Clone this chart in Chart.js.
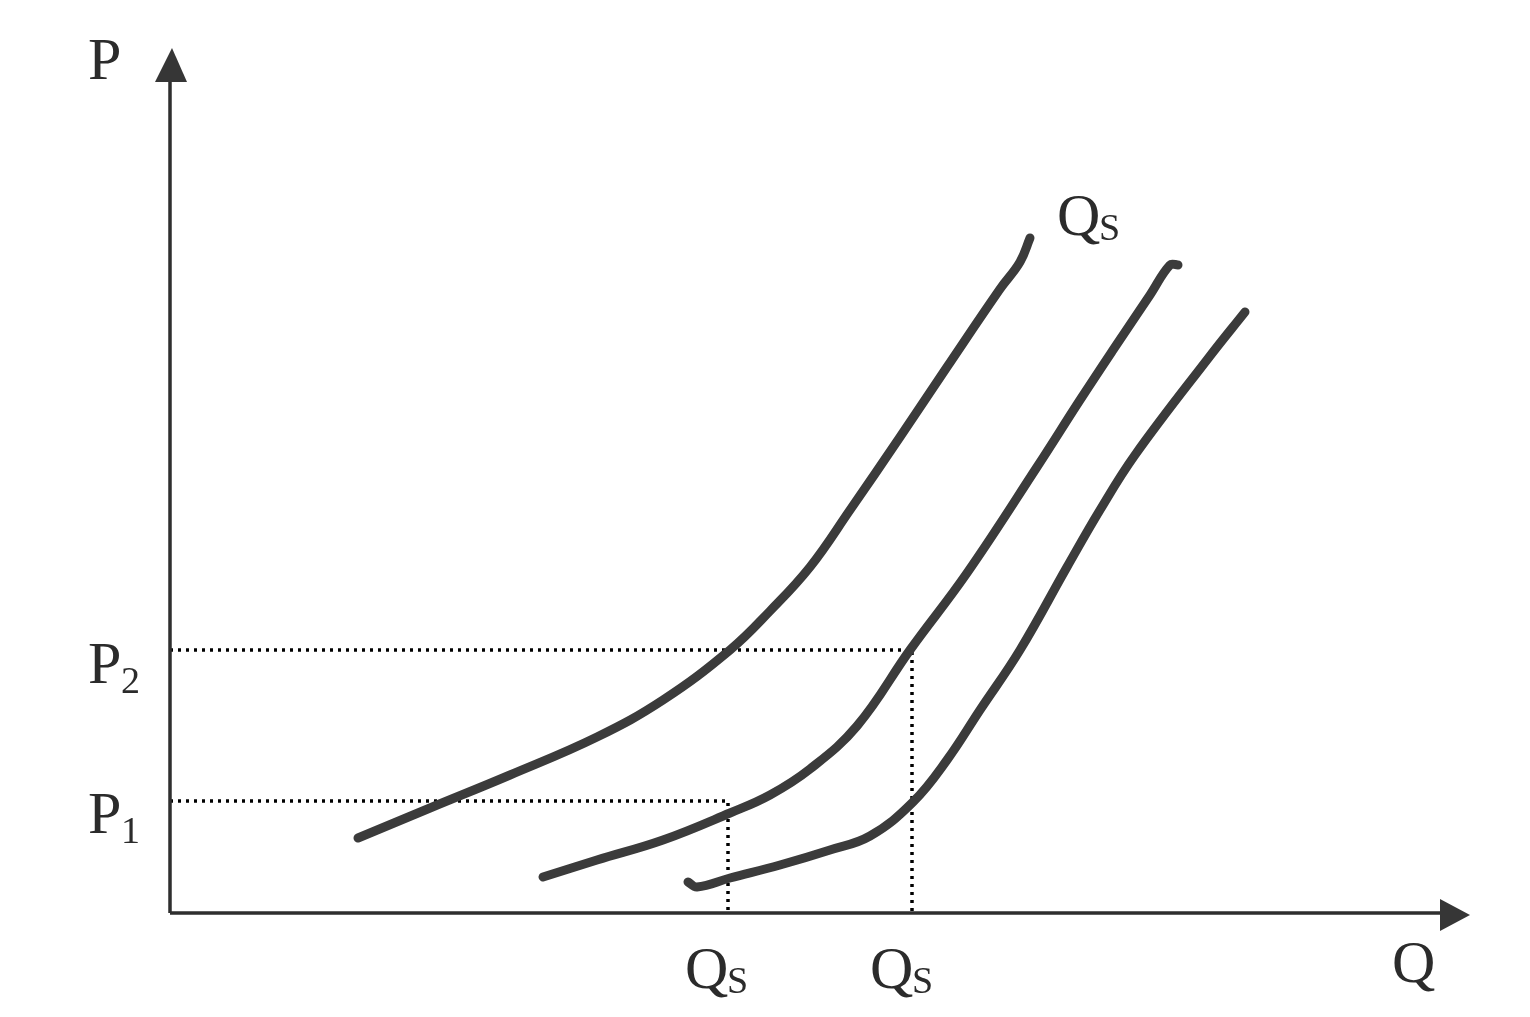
<!DOCTYPE html>
<html>
<head>
<meta charset="utf-8">
<script src="https://cdn.jsdelivr.net/npm/chart.js@4.4.1/dist/chart.umd.min.js"></script>
<style>
  html, body { margin: 0; padding: 0; background: #fff; }
  #supplyChart { display: block; }
</style>
</head>
<body>
<canvas id="supplyChart" width="1530" height="1017"></canvas>
<script>
// Supply curves S1, S2, S3 (quantity, price) in drawing units
const s1Q = [188, 260, 340, 427, 493, 560, 600, 640, 680, 730, 777, 830, 850, 860];
const s1P = [75, 105, 138, 176, 213, 263, 302, 346, 403, 476, 546, 624, 651, 675];

const s2Q = [373, 427, 493, 560, 600, 640, 687, 740, 797, 867, 910, 943, 980, 1000, 1008];
const s2P = [36, 53, 73, 100, 118, 144, 187, 263, 340, 446, 513, 563, 618, 648, 648];

const s3Q = [518, 527, 560, 610, 660, 700, 743, 777, 810, 850, 897, 930, 965, 1040, 1075];
const s3P = [31, 26, 35, 48, 63, 77, 111, 153, 203, 263, 346, 403, 458, 557, 601];

const priceLevels = [112, 263];   // P1, P2
const qsLevels = [558, 742];      // Qs at P1, Qs at P2
const axisMax = { q: 1300, p: 865 };

const toPoints = (xs, ys) => xs.map((x, i) => ({ x: x, y: ys[i] }));

const curveStyle = {
    borderColor: '#3b3b3b',
    borderWidth: 9,
    borderCapStyle: 'round',
    borderJoinStyle: 'round',
    pointRadius: 0,
    fill: false,
    tension: 0.4
};

const dotStyle = {
    borderColor: '#000',
    borderWidth: 3.5,
    borderDash: [3, 5],
    pointRadius: 0,
    fill: false,
    tension: 0
};

const datasets = [
    Object.assign({ data: toPoints(s1Q, s1P) }, curveStyle),
    Object.assign({ data: toPoints(s2Q, s2P) }, curveStyle),
    Object.assign({ data: toPoints(s3Q, s3P) }, curveStyle)
];

// dotted guide lines: horizontal from P axis, then down to Q axis
priceLevels.forEach((p, i) => {
    datasets.push(Object.assign({
        data: [{ x: 0, y: p }, { x: qsLevels[i], y: p }, { x: qsLevels[i], y: 0 }]
    }, dotStyle));
});

// axes with arrowheads and the text labels
const axesAndLabels = {
    id: 'axesAndLabels',
    afterDatasetsDraw(chart) {
        const ctx = chart.ctx;
        const xs = chart.scales.x;
        const ys = chart.scales.y;
        const x0 = xs.getPixelForValue(0);
        const y0 = ys.getPixelForValue(0);
        const xEnd = xs.getPixelForValue(axisMax.q);
        const yEnd = ys.getPixelForValue(axisMax.p);

        ctx.save();
        ctx.strokeStyle = '#2e2e2e';
        ctx.fillStyle = '#363636';
        ctx.lineWidth = 3.5;
        ctx.beginPath();
        ctx.moveTo(x0, y0);
        ctx.lineTo(x0, yEnd + 34);
        ctx.moveTo(x0, y0);
        ctx.lineTo(xEnd - 30, y0);
        ctx.stroke();

        // arrowheads
        ctx.beginPath();
        ctx.moveTo(x0 + 2, yEnd);
        ctx.lineTo(x0 - 15, yEnd + 34);
        ctx.lineTo(x0 + 17, yEnd + 34);
        ctx.closePath();
        ctx.fill();
        ctx.beginPath();
        ctx.moveTo(xEnd, y0 + 2);
        ctx.lineTo(xEnd - 30, y0 - 14);
        ctx.lineTo(xEnd - 30, y0 + 18);
        ctx.closePath();
        ctx.fill();

        ctx.fillStyle = '#2b2b2b';
        ctx.textBaseline = 'alphabetic';
        ctx.textAlign = 'left';
        const big = '60px "Liberation Serif", "DejaVu Serif", serif';
        const small = '38px "Liberation Serif", "DejaVu Serif", serif';

        ctx.font = big;
        ctx.fillText('P', 88, 79);
        ctx.fillText('Q', 1392, 982);

        // P1, P2
        const pLabel = (sub, base) => {
            ctx.font = big;
            ctx.fillText('P', 88, base);
            ctx.font = small;
            ctx.fillText(sub, 121, base + 10);
        };
        pLabel('2', ys.getPixelForValue(priceLevels[1]) + 33);
        pLabel('1', ys.getPixelForValue(priceLevels[0]) + 32);

        // Qs labels
        const qsLabel = (left, base) => {
            ctx.font = big;
            ctx.fillText('Q', left, base);
            ctx.font = small;
            ctx.fillText('S', left + 42, base + 5);
        };
        qsLabel(xs.getPixelForValue(qsLevels[0]) - 43, 988);
        qsLabel(xs.getPixelForValue(qsLevels[1]) - 42, 988);
        qsLabel(1057, 235);
        ctx.restore();
    }
};

new Chart(document.getElementById('supplyChart').getContext('2d'), {
    type: 'line',
    data: { datasets: datasets },
    options: {
        responsive: false,
        animation: false,
        devicePixelRatio: 1,
        layout: { padding: { left: 170, right: 60, top: 48, bottom: 104 } },
        plugins: {
            legend: { display: false },
            tooltip: { enabled: false }
        },
        scales: {
            x: { type: 'linear', min: 0, max: axisMax.q, display: false },
            y: { type: 'linear', min: 0, max: axisMax.p, display: false }
        }
    },
    plugins: [axesAndLabels]
});
</script>
</body>
</html>
